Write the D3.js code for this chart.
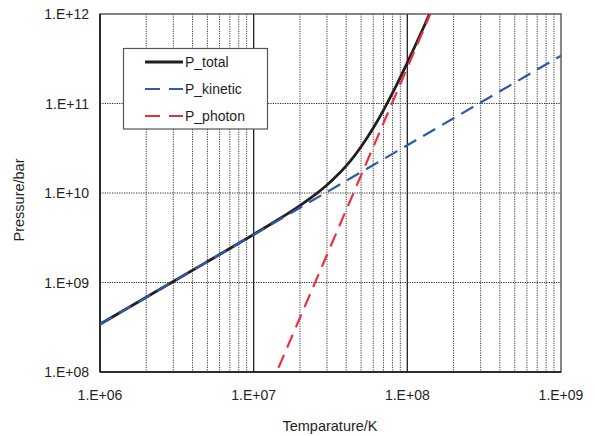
<!DOCTYPE html>
<html>
<head>
<meta charset="utf-8">
<script src="https://cdn.jsdelivr.net/npm/d3@7"></script>
<style>
  html, body { margin: 0; padding: 0; background: #fff; }
  svg { display: block; font-family: "Liberation Sans", Arial, sans-serif; }
</style>
</head>
<body>
<svg id="chart" width="595" height="436"></svg>
<script>
// Temperatures (K) and pressures (bar) for each curve
const kineticT = [1e6, 2e6, 3e6, 5e6, 7e6, 1e7, 1.5e7, 2e7, 3e7, 4e7, 5e7, 7e7, 1e8, 1.5e8, 2e8, 3e8, 5e8, 7e8, 1e9];
const kineticP = [3.42e8, 6.84e8, 1.026e9, 1.71e9, 2.394e9, 3.42e9, 5.13e9, 6.84e9, 1.026e10, 1.368e10, 1.71e10, 2.394e10, 3.42e10, 5.13e10, 6.84e10, 1.026e11, 1.71e11, 2.394e11, 3.42e11];

const photonT = [1.45e7, 2e7, 2.5e7, 3e7, 3.5e7, 4e7, 4.5e7, 5e7, 5.5e7, 6e7, 7e7, 8e7, 9e7, 1e8, 1.1e8, 1.2e8, 1.3e8, 1.4e8, 1.45e8];
const photonP = [1.114e8, 4.032e8, 9.84e8, 2.041e9, 3.782e9, 6.45e9, 1.033e10, 1.575e10, 2.306e10, 3.266e10, 6.05e10, 1.032e11, 1.653e11, 2.52e11, 3.69e11, 5.225e11, 7.197e11, 9.68e11, 1.114e12];

const totalT = [1e6, 2e6, 3e6, 5e6, 7e6, 1e7, 1.5e7, 2e7, 2.5e7, 3e7, 3.5e7, 4e7, 4.5e7, 5e7, 5.5e7, 6e7, 7e7, 8e7, 9e7, 1e8, 1.1e8, 1.2e8, 1.3e8, 1.4e8, 1.45e8];
const totalP = [3.42e8, 6.84e8, 1.0262e9, 1.7116e9, 2.4e9, 3.445e9, 5.258e9, 7.243e9, 9.534e9, 1.23e10, 1.575e10, 2.013e10, 2.572e10, 3.285e10, 4.187e10, 5.318e10, 8.444e10, 1.306e11, 1.961e11, 2.862e11, 4.066e11, 5.635e11, 7.642e11, 1.016e12, 1.164e12];

const xTickValues = [1e6, 1e7, 1e8, 1e9];
const xTickLabels = ["1.E+06", "1.E+07", "1.E+08", "1.E+09"];
const yTickValues = [1e8, 1e9, 1e10, 1e11, 1e12];
const yTickLabels = ["1.E+08", "1.E+09", "1.E+10", "1.E+11", "1.E+12"];

const seriesNames = ["P_total", "P_kinetic", "P_photon"];

const svg = d3.select("#chart");
const plot = { left: 100, right: 561, top: 14, bottom: 372 };

const x = d3.scaleLog().domain([1e6, 1e9]).range([plot.left, plot.right]);
const y = d3.scaleLog().domain([1e8, 1e12]).range([plot.bottom, plot.top]);

// minor vertical grid (2..9 in each decade)
const minorX = [];
for (let d = 1e6; d < 1e9; d *= 10) {
  for (let k = 2; k <= 9; k++) minorX.push(d * k);
}
const grid = svg.append("g");
grid.selectAll("line.minor").data(minorX).join("line")
  .attr("x1", d => x(d)).attr("x2", d => x(d))
  .attr("y1", plot.top).attr("y2", plot.bottom)
  .attr("stroke", "#3a3a3a").attr("stroke-width", 1)
  .attr("stroke-dasharray", "1.2,1.2");

// major vertical grid: solid
grid.selectAll("line.majorx").data(xTickValues.slice(1, -1)).join("line")
  .attr("x1", d => x(d)).attr("x2", d => x(d))
  .attr("y1", plot.top).attr("y2", plot.bottom)
  .attr("stroke", "#222").attr("stroke-width", 1.3);

// major horizontal grid: dotted
grid.selectAll("line.majory").data(yTickValues.slice(1, -1)).join("line")
  .attr("x1", plot.left).attr("x2", plot.right)
  .attr("y1", d => y(d)).attr("y2", d => y(d))
  .attr("stroke", "#2a2a2a").attr("stroke-width", 1)
  .attr("stroke-dasharray", "1.2,1.2");

// plot frame
svg.append("rect")
  .attr("x", plot.left).attr("y", plot.top)
  .attr("width", plot.right - plot.left).attr("height", plot.bottom - plot.top)
  .attr("fill", "none").attr("stroke", "#444").attr("stroke-width", 1.3);
svg.append("line").attr("x1", plot.left).attr("x2", plot.left)
  .attr("y1", plot.top).attr("y2", plot.bottom).attr("stroke", "#111").attr("stroke-width", 1.5);
svg.append("line").attr("x1", plot.left).attr("x2", plot.right)
  .attr("y1", plot.bottom).attr("y2", plot.bottom).attr("stroke", "#111").attr("stroke-width", 1.5);

// curves
svg.append("clipPath").attr("id", "clip").append("rect")
  .attr("x", plot.left).attr("y", plot.top)
  .attr("width", plot.right - plot.left).attr("height", plot.bottom - plot.top);

const line = d3.line().x(d => x(d[0])).y(d => y(d[1])).curve(d3.curveMonotoneX);
const curves = svg.append("g").attr("clip-path", "url(#clip)");

const series = [
  { name: seriesNames[0], pts: d3.zip(totalT, totalP), color: "#231f20", width: 2.8, dash: null },
  { name: seriesNames[1], pts: d3.zip(kineticT, kineticP), color: "#2e5aa7", width: 2.2, dash: "14,8" },
  { name: seriesNames[2], pts: d3.zip(photonT, photonP), color: "#ec2f41", width: 2.2, dash: "14,8" }
];

curves.selectAll("path").data(series).join("path")
  .attr("d", d => line(d.pts))
  .attr("fill", "none")
  .attr("stroke", d => d.color)
  .attr("stroke-width", d => d.width)
  .attr("stroke-dasharray", d => d.dash);

// tick labels
svg.append("g").selectAll("text").data(xTickValues).join("text")
  .attr("x", d => x(d)).attr("y", plot.bottom + 28)
  .attr("text-anchor", "middle").attr("font-size", 14).attr("fill", "#231f20")
  .text((d, i) => xTickLabels[i]);

svg.append("g").selectAll("text").data(yTickValues).join("text")
  .attr("x", plot.left - 11).attr("y", d => y(d))
  .attr("dy", "0.36em")
  .attr("text-anchor", "end").attr("font-size", 14).attr("fill", "#231f20")
  .text((d, i) => yTickLabels[i]);

// axis titles
svg.append("text")
  .attr("x", 330).attr("y", 431)
  .attr("text-anchor", "middle").attr("font-size", 14.5).attr("fill", "#231f20")
  .text("Temparature/K");

svg.append("text")
  .attr("transform", "translate(24,200) rotate(-90)")
  .attr("text-anchor", "middle").attr("font-size", 14.5).attr("fill", "#231f20")
  .text("Pressure/bar");

// legend
const legend = svg.append("g");
legend.append("rect")
  .attr("x", 123.5).attr("y", 48.5).attr("width", 144).attr("height", 80.5)
  .attr("fill", "#fff").attr("stroke", "#555").attr("stroke-width", 1.2);
const rowY = [62, 89, 116];
const items = legend.selectAll("g.item").data(series).join("g")
  .attr("transform", (d, i) => `translate(0,${rowY[i]})`);
items.append("line")
  .attr("x1", 145).attr("x2", 183).attr("y1", 0).attr("y2", 0)
  .attr("stroke", d => d.color)
  .attr("stroke-width", d => d.width)
  .attr("stroke-dasharray", d => d.dash ? "15,9" : null);
items.append("text")
  .attr("x", 185).attr("y", 0).attr("dy", "0.36em")
  .attr("font-size", 14).attr("fill", "#231f20")
  .text(d => d.name);
</script>
</body>
</html>
